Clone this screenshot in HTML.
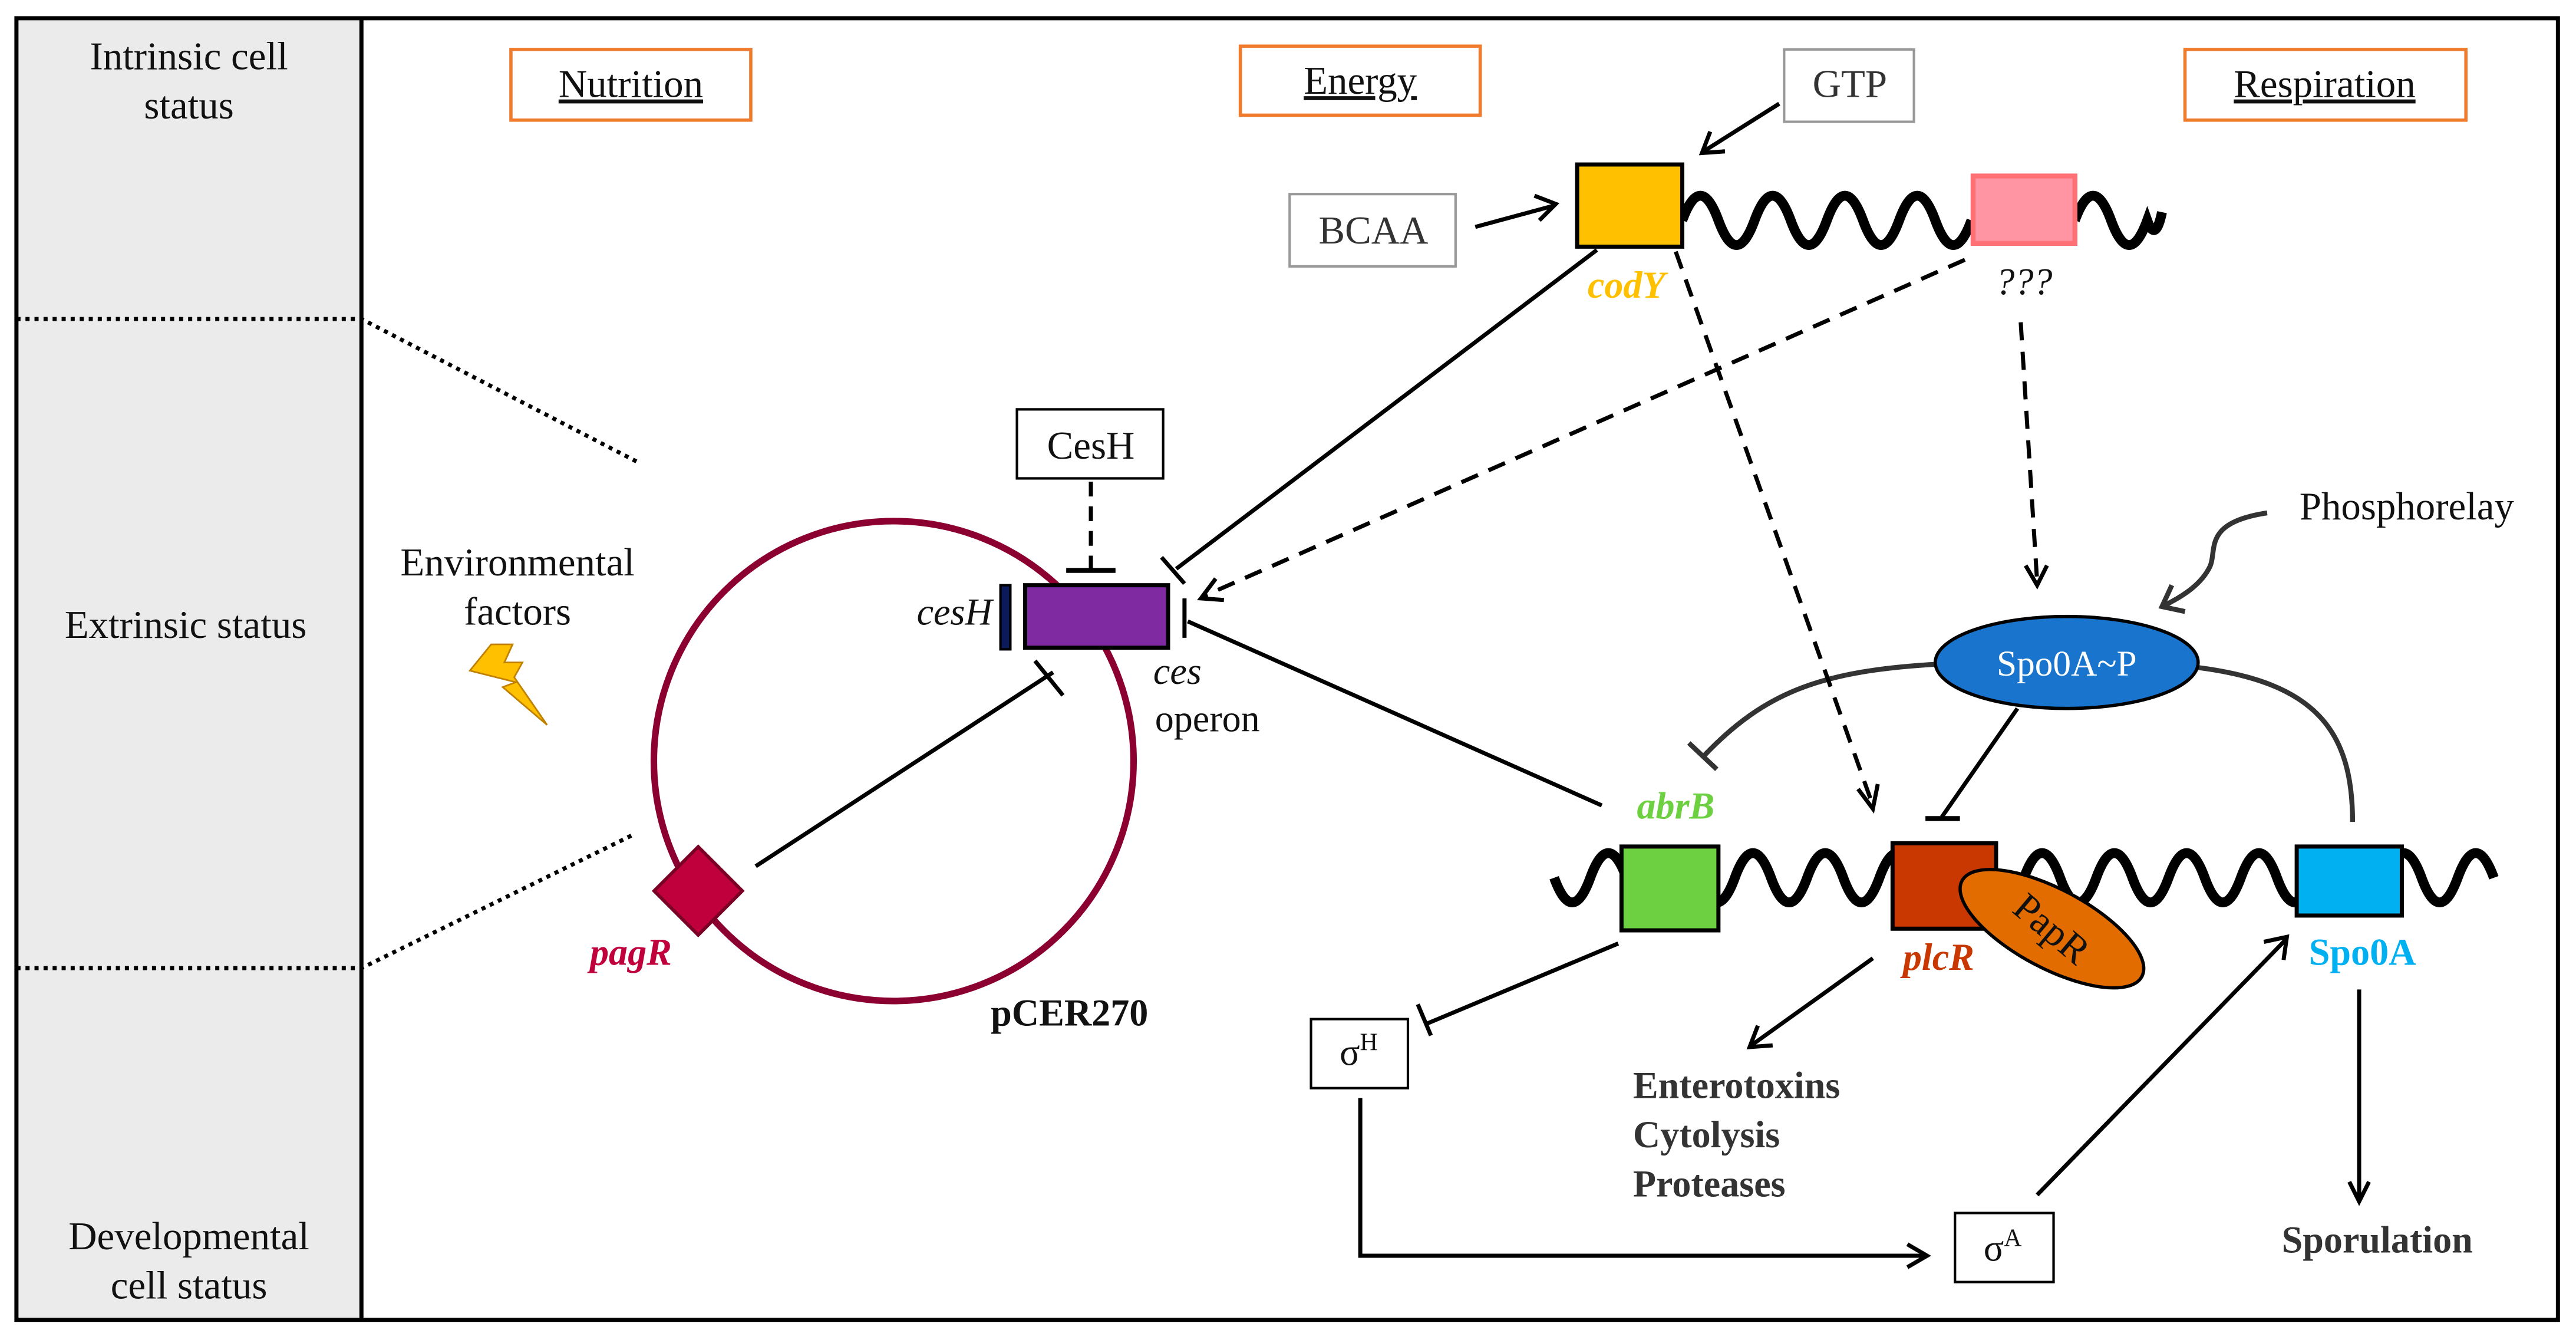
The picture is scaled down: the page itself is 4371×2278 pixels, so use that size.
<!DOCTYPE html>
<html><head><meta charset="utf-8"><style>
html,body{margin:0;padding:0;background:#fff;}
svg{display:block;}
text{font-family:"Liberation Serif",serif;}
</style></head><body>
<svg width="4371" height="2278" viewBox="0 0 1568 817" xmlns="http://www.w3.org/2000/svg">
<rect x="0" y="0" width="1568" height="817" fill="#fff"/>
<rect x="10" y="11" width="210" height="792" fill="#ebebeb"/>
<rect x="10" y="11" width="1547" height="792" fill="none" stroke="#000" stroke-width="2.5"/>
<line x1="220" y1="11" x2="220" y2="803" stroke="#000" stroke-width="2.5"/>
<g stroke="#000" stroke-width="2.5" stroke-dasharray="2.5 3" fill="none">
<polyline points="10,194 220,194 388,281"/>
<polyline points="10,589 220,589 385,508"/>
</g>
<g font-size="24" text-anchor="middle" fill="#111">
<text x="115" y="42">Intrinsic cell</text>
<text x="115" y="72">status</text>
<text x="113" y="388">Extrinsic status</text>
<text x="115" y="760">Developmental</text>
<text x="115" y="790">cell status</text>
</g>
<g fill="none" stroke="#f07b2c" stroke-width="2">
<rect x="311" y="30" width="146" height="43"/>
<rect x="755" y="28" width="146" height="42"/>
<rect x="1330" y="30" width="171" height="43"/>
</g>
<g font-size="24" text-anchor="middle" text-decoration="underline" fill="#111">
<text x="384" y="59">Nutrition</text>
<text x="828" y="57">Energy</text>
<text x="1415" y="59">Respiration</text>
</g>
<g fill="#fff" stroke="#999" stroke-width="1.5">
<rect x="1086" y="30" width="79" height="44"/>
<rect x="785" y="118" width="101" height="44"/>
</g>
<g font-size="24" text-anchor="middle" fill="#333">
<text x="1126" y="59">GTP</text>
<text x="836" y="148">BCAA</text>
</g>
<g stroke="#000" stroke-width="2.5" fill="none">
<line x1="1083" y1="63" x2="1037" y2="92"/>
<polyline points="1050,92 1036,93 1041,80"/>
<line x1="898" y1="138" x2="946" y2="125"/>
<polyline points="934,119 947,124 937,134"/>
</g>
<!-- top DNA -->
<path d="M1024,134 q11,-30 22,0 t22,0 t22,0 t22,0 t22,0 t22,0 t22,0 t22,0" fill="none" stroke="#000" stroke-width="6"/>
<path d="M1263,134 q11,-30 22,0 t22,0 q5,14 9,-5" fill="none" stroke="#000" stroke-width="6"/>
<rect x="960" y="100" width="64" height="50" fill="#ffc000" stroke="#000" stroke-width="2.5"/>
<rect x="1201" y="107" width="62" height="41" fill="#ff94a2" stroke="#ff7075" stroke-width="3"/>
<text x="990" y="181" font-size="23" font-style="italic" font-weight="bold" fill="#ffc000" text-anchor="middle">codY</text>
<text x="1232" y="179" font-size="23" font-style="italic" fill="#111" text-anchor="middle">???</text>
<circle cx="544" cy="463" r="146" fill="none" stroke="#8b0030" stroke-width="4"/>
<rect x="624" y="356" width="87" height="38" fill="#7f2aa0" stroke="#000" stroke-width="2.5"/>
<rect x="609" y="356" width="6" height="39" fill="#0a1a5a" stroke="#000" stroke-width="1.5"/>
<g font-size="23" fill="#111">
<text x="604" y="380" text-anchor="end" font-style="italic">cesH</text>
<text x="702" y="416" font-style="italic">ces</text>
<text x="703" y="445">operon</text>
</g>
<rect x="619" y="249" width="89" height="42" fill="#fff" stroke="#000" stroke-width="1.5"/>
<text x="664" y="279" font-size="24" text-anchor="middle" fill="#111">CesH</text>
<g stroke="#000" stroke-width="2.5" fill="none">
<line x1="664" y1="293" x2="664" y2="346" stroke-dasharray="9 6"/>
<line x1="649" y1="347" x2="679" y2="347" stroke-width="3"/>
<line x1="972" y1="152" x2="716" y2="346"/>
<line x1="707" y1="339" x2="721" y2="355"/>
<line x1="1196" y1="158" x2="732" y2="363" stroke-dasharray="11 7"/>
<polyline points="740,352 731,364 745,365"/>
<line x1="975" y1="490" x2="723" y2="378"/>
<line x1="721" y1="364" x2="721" y2="388"/>
<line x1="460" y1="527" x2="641" y2="409"/>
<line x1="630" y1="402" x2="647" y2="423"/>
</g>
<rect x="406" y="523" width="38" height="38" fill="#c0003c" stroke="#7a0025" stroke-width="2" transform="rotate(45 425 542)"/>
<text x="384" y="587" font-size="23" font-style="italic" font-weight="bold" fill="#c0003c" text-anchor="middle">pagR</text>
<text x="651" y="624" font-size="23" font-weight="bold" fill="#111" text-anchor="middle">pCER270</text>
<g font-size="24" text-anchor="middle" fill="#111">
<text x="315" y="350">Environmental</text>
<text x="315" y="380">factors</text>
</g>
<polygon points="299,392 312,392 307,403 318,403 313,412 333,441 306,418 314,415 286,408" fill="#ffc000" stroke="#c08000" stroke-width="1"/>
<!-- bottom DNA -->
<path d="M946,534 q11,30 22,0 t22,0 t22,0 t22,0 t22,0 t22,0 t22,0 t22,0 t22,0 t22,0 t22,0 t22,0 t22,0 t22,0 t22,0 t22,0 t22,0 t22,0 t22,0 t22,0 t22,0 t22,0 t22,0 t22,0 t22,0 t22,0" fill="none" stroke="#000" stroke-width="6"/>
<rect x="987" y="515" width="59" height="51" fill="#6dd040" stroke="#000" stroke-width="2.5"/>
<rect x="1152" y="513" width="63" height="52" fill="#c83800" stroke="#000" stroke-width="2.5"/>
<rect x="1398" y="515" width="64" height="42" fill="#00b0f0" stroke="#000" stroke-width="2.5"/>
<ellipse cx="1249" cy="565" rx="62" ry="24" fill="#e36c00" stroke="#000" stroke-width="2" transform="rotate(28 1249 565)"/>
<text x="1249" y="573" font-size="24" fill="#111" text-anchor="middle" transform="rotate(40 1249 565)">PapR</text>
<text x="1020" y="498" font-size="23" font-style="italic" font-weight="bold" fill="#6dd040" text-anchor="middle">abrB</text>
<text x="1180" y="590" font-size="23" font-style="italic" font-weight="bold" fill="#c83800" text-anchor="middle">plcR</text>
<text x="1438" y="587" font-size="23" font-weight="bold" fill="#00b0f0" text-anchor="middle">Spo0A</text>
<g stroke="#333" stroke-width="3" fill="none">
<path d="M1180,404 C1110,408 1075,420 1037,460"/>
<line x1="1028" y1="452" x2="1045" y2="468"/>
<path d="M1337,406 C1410,415 1432,445 1432,500"/>
<path d="M1380,312 C1340,318 1350,335 1345,345 C1340,355 1330,362 1318,368"/>
<polyline points="1322,356 1316,369 1330,372"/>
</g>
<ellipse cx="1258" cy="403" rx="80" ry="28" fill="#1874cd" stroke="#000" stroke-width="2"/>
<text x="1258" y="411" font-size="22" fill="#fff" text-anchor="middle">Spo0A~P</text>
<text x="1465" y="316" font-size="24" fill="#111" text-anchor="middle">Phosphorelay</text>
<g stroke="#000" stroke-width="2.5" fill="none">
<line x1="1228" y1="431" x2="1182" y2="497"/>
<line x1="1172" y1="498" x2="1193" y2="498" stroke-width="3"/>
<line x1="1020" y1="153" x2="1140" y2="490" stroke-dasharray="11 7"/>
<polyline points="1131,480 1140,492 1143,477"/>
<line x1="1230" y1="196" x2="1240" y2="354" stroke-dasharray="11 7"/>
<polyline points="1233,344 1240,356 1246,344"/>
<line x1="985" y1="574" x2="868" y2="623"/>
<line x1="863" y1="611" x2="871" y2="630"/>
<polyline points="828,668 828,764 1172,764"/>
<polyline points="1161,757 1173,764 1161,771"/>
<line x1="1240" y1="727" x2="1392" y2="571"/>
<polyline points="1378,573 1392,570 1390,584"/>
<line x1="1140" y1="583" x2="1066" y2="636"/>
<polyline points="1070,624 1065,637 1079,636"/>
<line x1="1436" y1="602" x2="1436" y2="730"/>
<polyline points="1430,719 1436,731 1442,719"/>
</g>
<rect x="798" y="620" width="59" height="42" fill="#fff" stroke="#000" stroke-width="1.5"/>
<text x="827" y="648" font-size="23" fill="#111" text-anchor="middle">σ<tspan font-size="15" dy="-9">H</tspan></text>
<rect x="1190" y="738" width="60" height="42" fill="#fff" stroke="#000" stroke-width="1.5"/>
<text x="1219" y="767" font-size="23" fill="#111" text-anchor="middle">σ<tspan font-size="15" dy="-9">A</tspan></text>
<g font-size="23" font-weight="bold" fill="#333">
<text x="994" y="668">Enterotoxins</text>
<text x="994" y="698">Cytolysis</text>
<text x="994" y="728">Proteases</text>
<text x="1447" y="762" text-anchor="middle">Sporulation</text>
</g>
</svg>
</body></html>
